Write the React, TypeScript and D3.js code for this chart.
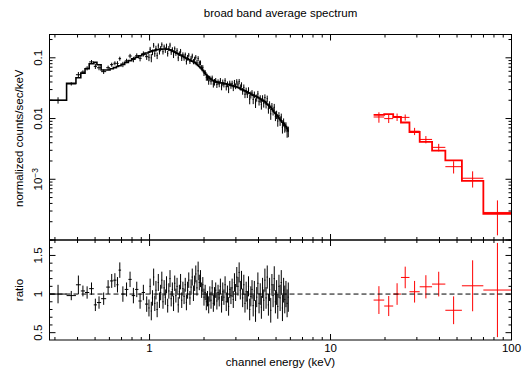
import React from 'react';
import * as d3 from 'd3';

const W = 524, H = 370;
const titleText = 'broad band average spectrum';
const yLabelTop = 'normalized counts/sec/keV';
const yLabelBottom = 'ratio';
const xLabel = 'channel energy (keV)';

const xMajor = [1, 10, 100];
const xMajorLabels = ['1', '10', '100'];
const yTopMajor = [0.1, 0.01, 0.001];
const ratioMajor = [0.5, 1, 1.5];
const ratioMajorLabels = ['0.5', '1', '1.5'];

// black (low energy instrument) bins
const blackEdges = [
  0.280, 0.348, 0.392, 0.417, 0.440, 0.464, 0.492, 0.512, 0.540, 0.576, 0.605, 0.631, 0.656, 0.674, 0.696, 0.729, 0.764, 0.797, 0.832, 0.868, 0.905, 0.944,
  0.985, 1.000, 1.015, 1.030, 1.046, 1.061, 1.077, 1.093, 1.110, 1.126, 1.143, 1.160, 1.178, 1.195, 1.213, 1.232, 1.250, 1.269, 1.288, 1.307,
  1.327, 1.347, 1.367, 1.388, 1.408, 1.430, 1.451, 1.473, 1.495, 1.517, 1.540, 1.563, 1.587, 1.610, 1.635, 1.659, 1.684, 1.709, 1.735, 1.761,
  1.788, 1.814, 1.842, 1.869, 1.897, 1.926, 1.955, 1.984, 2.014, 2.044, 2.075, 2.106, 2.138, 2.170, 2.202, 2.235, 2.269, 2.303, 2.338, 2.373,
  2.408, 2.445, 2.481, 2.519, 2.557, 2.595, 2.634, 2.674, 2.714, 2.754, 2.796, 2.838, 2.880, 2.924, 2.967, 3.012, 3.057, 3.103, 3.150, 3.197,
  3.245, 3.294, 3.343, 3.393, 3.444, 3.496, 3.549, 3.602, 3.656, 3.711, 3.767, 3.823, 3.880, 3.939, 3.998, 4.058, 4.119, 4.180, 4.243, 4.307,
  4.371, 4.437, 4.503, 4.571, 4.639, 4.709, 4.780, 4.851, 4.924, 4.998, 5.073, 5.149, 5.226, 5.304, 5.384, 5.465, 5.547, 5.630, 5.714, 5.800,
  5.887,
];
const blackModel = [
  0.020, 0.038, 0.047, 0.056, 0.066, 0.080, 0.084, 0.077, 0.063, 0.063, 0.066, 0.069, 0.072, 0.074, 0.078, 0.084, 0.090, 0.096, 0.102, 0.108, 0.114, 0.120,
  0.124, 0.126, 0.128, 0.130, 0.132, 0.133, 0.135, 0.136, 0.137, 0.138,
  0.139, 0.139, 0.140, 0.140, 0.140, 0.139, 0.138, 0.137, 0.135, 0.133,
  0.130, 0.127, 0.124, 0.121, 0.119, 0.116, 0.114, 0.111, 0.108, 0.106,
  0.103, 0.101, 0.098, 0.096, 0.094, 0.092, 0.090, 0.088, 0.086, 0.084,
  0.081, 0.078, 0.075, 0.072, 0.069, 0.066, 0.062, 0.059, 0.056, 0.053,
  0.050, 0.048, 0.046, 0.0445, 0.0432, 0.0420, 0.0411, 0.0404, 0.0398, 0.0394,
  0.0390, 0.0387, 0.0384, 0.0381, 0.0378, 0.0375, 0.0372, 0.0368, 0.0364, 0.0359,
  0.0355, 0.0350, 0.0345, 0.0340, 0.0335, 0.0330, 0.0325, 0.0318, 0.0311, 0.0304,
  0.0297, 0.0291, 0.0285, 0.0278, 0.0272, 0.0266, 0.0260, 0.0254, 0.0249, 0.0243,
  0.0238, 0.0233, 0.0228, 0.0223, 0.0218, 0.0212, 0.0206, 0.0200, 0.0194, 0.0188,
  0.0181, 0.0174, 0.0167, 0.0159, 0.0151, 0.0143, 0.0135, 0.0128, 0.0121, 0.0114,
  0.0108, 0.0102, 0.0097, 0.0092, 0.0087, 0.0083, 0.0078, 0.0074, 0.0069, 0.0064,
];
const blackRatio = [
  1.00, 0.98, 1.12, 1.04, 1.02, 1.07, 0.86, 0.89, 0.94, 1.09, 1.17, 1.18, 1.12, 1.31, 1.00, 1.06, 1.19, 0.98, 1.06, 0.91, 1.02, 0.87,
  0.82, 1.10, 0.78, 0.95, 1.22, 0.88, 1.05, 0.80, 1.15, 0.92,
  1.02, 1.18, 0.90, 1.08, 0.96, 1.12, 0.85, 1.04, 1.20, 0.94,
  1.06, 0.88, 1.14, 0.98, 1.10, 0.86, 1.03, 1.16, 0.92, 1.07,
  0.97, 1.12, 0.89, 1.05, 1.18, 0.95, 1.09, 1.22, 1.01, 1.14,
  1.26, 1.08, 1.30, 1.15, 1.20, 1.05, 1.12, 0.96, 1.02, 0.90,
  0.94, 0.86, 1.00, 0.92, 1.08, 0.88, 0.97, 1.05, 0.91, 1.02,
  0.95, 1.10, 0.87, 1.03, 0.96, 1.12, 0.90, 1.00, 0.84, 1.06,
  0.98, 1.08, 0.93, 1.15, 1.02, 1.22, 1.10, 1.28, 1.05, 1.18,
  0.95, 1.12, 0.88, 1.03, 0.92, 1.10, 0.80, 0.97, 1.06, 0.85,
  1.04, 0.78, 0.96, 1.14, 0.88, 1.00, 0.83, 1.08, 0.92, 1.18,
  0.95, 1.22, 0.86, 1.06, 0.79, 1.12, 0.98, 1.20, 0.90, 1.02,
  0.84, 1.10, 0.95, 1.15, 0.82, 1.05, 0.93, 1.00, 0.88, 0.96,
];
const blackErr = [
  0.12, 0.06, 0.12, 0.07, 0.08, 0.08, 0.08, 0.08, 0.08, 0.09, 0.09, 0.09, 0.10, 0.10, 0.10, 0.09, 0.10, 0.10, 0.10, 0.10, 0.10, 0.10,
  0.11, 0.10, 0.12, 0.10, 0.11, 0.10, 0.12, 0.10, 0.11, 0.10,
  0.10, 0.11, 0.09, 0.10, 0.10, 0.11, 0.09, 0.10, 0.11, 0.10,
  0.09, 0.10, 0.10, 0.09, 0.11, 0.10, 0.09, 0.10, 0.10, 0.09,
  0.10, 0.09, 0.10, 0.11, 0.10, 0.09, 0.10, 0.11, 0.10, 0.10,
  0.11, 0.10, 0.12, 0.10, 0.11, 0.10, 0.10, 0.11, 0.10, 0.11,
  0.10, 0.11, 0.10, 0.11, 0.10, 0.11, 0.12, 0.10, 0.11, 0.10,
  0.11, 0.10, 0.11, 0.12, 0.10, 0.11, 0.12, 0.11, 0.12, 0.11,
  0.11, 0.12, 0.11, 0.12, 0.11, 0.13, 0.12, 0.13, 0.12, 0.12,
  0.12, 0.13, 0.12, 0.13, 0.12, 0.13, 0.14, 0.13, 0.12, 0.14,
  0.13, 0.14, 0.13, 0.14, 0.13, 0.14, 0.15, 0.13, 0.14, 0.15,
  0.14, 0.15, 0.14, 0.15, 0.16, 0.14, 0.15, 0.16, 0.15, 0.16,
  0.16, 0.15, 0.17, 0.16, 0.17, 0.16, 0.18, 0.17, 0.18, 0.19,
];

// red (hard X-ray instrument) bins
const redEdges = [17.3, 19.8, 22.2, 24.5, 27.3, 31.1, 36.4, 43.1, 53.2, 69.9, 100];
const redModel = [0.0115, 0.0118, 0.0106, 0.0086, 0.0060, 0.00414, 0.00297, 0.00204, 0.00094, 0.00027];
const redRatio = [0.922, 0.845, 1.0, 1.215, 1.03, 1.094, 1.129, 0.79, 1.107, 1.052];
const redErr = [0.18, 0.13, 0.14, 0.14, 0.14, 0.15, 0.16, 0.18, 0.33, 0.61];

const L = 49.5, R = 511.5, T = 34.5, M = 240, B = 340;
const FONT = 'Liberation Sans, Arial, sans-serif';

type Bin = { lo: number; hi: number; c: number; model: number; ratio: number; err: number };
function makeBins(edges: number[], model: number[], ratio: number[], err: number[]): Bin[] {
  return model.map((m, i) => ({
    lo: edges[i], hi: edges[i + 1], c: Math.sqrt(edges[i] * edges[i + 1]),
    model: m, ratio: ratio[i], err: err[i],
  }));
}

export default function App() {
  const x = d3.scaleLog().domain([0.28, 100]).range([L, R]);
  const yTop = d3.scaleLog().domain([1e-4, 0.242]).range([M, T]);
  const yR = d3.scaleLinear().domain([0.405, 1.70]).range([B, M]);

  const black = makeBins(blackEdges, blackModel, blackRatio, blackErr);
  const red = makeBins(redEdges, redModel, redRatio, redErr);

  const stepLine = d3.line<[number, number]>()
    .x(d => x(d[0])).y(d => yTop(d[1])).curve(d3.curveStepAfter);
  const stepPts = (bins: Bin[]): [number, number][] => {
    const pts: [number, number][] = bins.map(b => [b.lo, b.model]);
    pts.push([bins[bins.length - 1].hi, bins[bins.length - 1].model]);
    return pts;
  };

  const xTicks = x.ticks();
  const yTicks = yTop.ticks().filter(v => v >= 1e-4 && v <= 0.242);
  const rTicks = yR.ticks(13);
  const isMajorLog = (v: number) => Math.abs(Math.log10(v) - Math.round(Math.log10(v))) < 1e-6;
  const isMajorR = (v: number) => Math.abs(v * 2 - Math.round(v * 2)) < 1e-6;

  const crossesTop = (bins: Bin[], color: string) => bins.map((b, i) => {
    const d = b.model * b.ratio;
    const e = b.model * b.err;
    return (
      <g key={i} stroke={color} strokeWidth={1}>
        <line x1={x(b.lo)} x2={x(b.hi)} y1={yTop(d)} y2={yTop(d)} />
        <line x1={x(b.c)} x2={x(b.c)} y1={yTop(Math.max(d - e, 1e-5))} y2={yTop(d + e)} />
      </g>
    );
  });
  const crossesRatio = (bins: Bin[], color: string) => bins.map((b, i) => (
    <g key={i} stroke={color} strokeWidth={1}>
      <line x1={x(b.lo)} x2={x(b.hi)} y1={yR(b.ratio)} y2={yR(b.ratio)} />
      <line x1={x(b.c)} x2={x(b.c)} y1={yR(b.ratio - b.err)} y2={yR(b.ratio + b.err)} />
    </g>
  ));

  const xTickMarks = (y0: number, dir: number, k: string) => xTicks.map((t, i) => {
    const len = isMajorLog(t) ? 6 : 3;
    return <line key={k + i} x1={x(t)} x2={x(t)} y1={y0} y2={y0 + dir * len} stroke="#000" />;
  });

  return (
    <svg width={W} height={H} style={{ position: 'absolute', left: 0, top: 0, background: '#fff' }}
      fontFamily={FONT}>
      <rect x={0} y={0} width={W} height={H} fill="#fff" />
      <defs>
        <clipPath id="clipTop"><rect x={L} y={T} width={R - L} height={M - T} /></clipPath>
        <clipPath id="clipBot"><rect x={L} y={M} width={R - L} height={B - M} /></clipPath>
      </defs>

      <text x={(L + R) / 2} y={17} textAnchor="middle" fontSize={11.5}>{titleText}</text>

      {/* top panel data */}
      <g clipPath="url(#clipTop)">
        {crossesTop(black, '#000')}
        {crossesTop(red, '#ff0000')}
        <path d={stepLine(stepPts(black)) || ''} fill="none" stroke="#000" strokeWidth={1.6} />
        <path d={stepLine(stepPts(red)) || ''} fill="none" stroke="#ff0000" strokeWidth={1.8} />
      </g>

      {/* bottom panel */}
      <g clipPath="url(#clipBot)">
        {crossesRatio(black, '#000')}
        {crossesRatio(red, '#ff0000')}
        <line x1={L} x2={R} y1={yR(1)} y2={yR(1)} stroke="#000" strokeDasharray="5,3" />
      </g>

      {/* frames */}
      <rect x={L} y={T} width={R - L} height={M - T} fill="none" stroke="#000" />
      <rect x={L} y={M} width={R - L} height={B - M} fill="none" stroke="#000" />

      {/* x ticks */}
      {xTickMarks(T, 1, 'a')}
      {xTickMarks(M, -1, 'b')}
      {xTickMarks(M, 1, 'c')}
      {xTickMarks(B, -1, 'd')}

      {/* top y ticks */}
      {yTicks.map((t, i) => {
        const len = isMajorLog(t) ? 6 : 3;
        return (
          <g key={'yt' + i} stroke="#000">
            <line x1={L} x2={L + len} y1={yTop(t)} y2={yTop(t)} />
            <line x1={R} x2={R - len} y1={yTop(t)} y2={yTop(t)} />
          </g>
        );
      })}
      {/* ratio y ticks */}
      {rTicks.map((t, i) => {
        const len = isMajorR(t) ? 6 : 3;
        return (
          <g key={'rt' + i} stroke="#000">
            <line x1={L} x2={L + len} y1={yR(t)} y2={yR(t)} />
            <line x1={R} x2={R - len} y1={yR(t)} y2={yR(t)} />
          </g>
        );
      })}

      {/* x tick labels */}
      {xMajor.map((t, i) => (
        <text key={'xl' + i} x={x(t)} y={352} textAnchor="middle" fontSize={11.5}>{xMajorLabels[i]}</text>
      ))}

      {/* top y labels */}
      {yTopMajor.map((t, i) => (
        <text key={'yl' + i} transform={`translate(42,${yTop(t)}) rotate(-90)`} textAnchor="middle" fontSize={11.5}>
          {t === 0.001 ? (<>10<tspan fontSize={8.5} dy={-4.5}>−3</tspan></>) : (t === 0.1 ? '0.1' : '0.01')}
        </text>
      ))}
      {/* ratio labels */}
      {ratioMajor.map((t, i) => (
        <text key={'rl' + i} transform={`translate(42,${yR(t)}) rotate(-90)`} textAnchor="middle" fontSize={11.5}>
          {ratioMajorLabels[i]}
        </text>
      ))}

      <text transform={`translate(23,${(T + M) / 2 + 1}) rotate(-90)`} textAnchor="middle" fontSize={11.5}>{yLabelTop}</text>
      <text transform={`translate(23,${(M + B) / 2}) rotate(-90)`} textAnchor="middle" fontSize={11.5}>{yLabelBottom}</text>
      <text x={(L + R) / 2} y={366} textAnchor="middle" fontSize={11.5}>{xLabel}</text>
    </svg>
  );
}
